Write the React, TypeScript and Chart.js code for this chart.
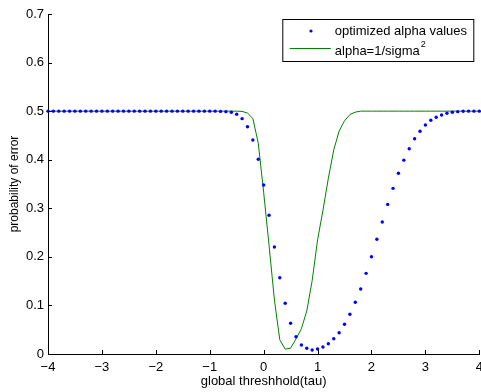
import React, { useEffect, useRef } from "react";
import { Chart, registerables } from "chart.js";

Chart.register(...registerables);

const TAU = [
  -4, -3.9, -3.8, -3.7, -3.6, -3.5, -3.4, -3.3, -3.2, -3.1,
  -3, -2.9, -2.8, -2.7, -2.6, -2.5, -2.4, -2.3, -2.2, -2.1,
  -2, -1.9, -1.8, -1.7, -1.6, -1.5, -1.4, -1.3, -1.2, -1.1,
  -1, -0.9, -0.8, -0.7, -0.6, -0.5, -0.4, -0.3, -0.2, -0.1,
  0, 0.1, 0.2, 0.3, 0.4, 0.5, 0.6, 0.7, 0.8, 0.9,
  1, 1.1, 1.2, 1.3, 1.4, 1.5, 1.6, 1.7, 1.8, 1.9,
  2, 2.1, 2.2, 2.3, 2.4, 2.5, 2.6, 2.7, 2.8, 2.9,
  3, 3.1, 3.2, 3.3, 3.4, 3.5, 3.6, 3.7, 3.8, 3.9,
  4,
];

const OPTIMIZED = [
  0.5, 0.5, 0.5, 0.5, 0.5, 0.5, 0.5, 0.5, 0.5, 0.5,
  0.5, 0.5, 0.5, 0.5, 0.5, 0.5, 0.5, 0.5, 0.5, 0.5,
  0.5, 0.5, 0.5, 0.5, 0.5, 0.5, 0.5, 0.5, 0.5, 0.5,
  0.5, 0.5, 0.4995, 0.499, 0.4976, 0.4935, 0.4845, 0.468, 0.4406, 0.401,
  0.348, 0.2856, 0.2203, 0.157, 0.1044, 0.0632, 0.0356, 0.0185, 0.0117, 0.0082,
  0.0103, 0.0144, 0.0212, 0.0315, 0.0439, 0.0611, 0.0817, 0.1064, 0.1338, 0.166,
  0.2003, 0.2362, 0.2718, 0.308, 0.341, 0.372, 0.3991, 0.4227, 0.4433, 0.4585,
  0.4715, 0.4812, 0.4873, 0.4921, 0.4956, 0.4976, 0.499, 0.4997, 0.5, 0.5,
  0.5,
];

const INVERSE_SIGMA = [
  0.5, 0.5, 0.5, 0.5, 0.5, 0.5, 0.5, 0.5, 0.5, 0.5,
  0.5, 0.5, 0.5, 0.5, 0.5, 0.5, 0.5, 0.5, 0.5, 0.5,
  0.5, 0.5, 0.5, 0.5, 0.5, 0.5, 0.5, 0.5, 0.5, 0.5,
  0.5, 0.5, 0.5, 0.5, 0.5, 0.5, 0.4995, 0.496, 0.485, 0.434,
  0.333, 0.224, 0.111, 0.029, 0.01, 0.012, 0.031, 0.052, 0.0885, 0.151,
  0.235, 0.296, 0.362, 0.42, 0.459, 0.48, 0.493, 0.498, 0.5, 0.5,
  0.5, 0.5, 0.5, 0.5, 0.5, 0.5, 0.5, 0.5, 0.5, 0.5,
  0.5, 0.5, 0.5, 0.5, 0.5, 0.5, 0.5, 0.5, 0.5, 0.5,
  0.5,
];

const X_TICKS = [-4, -3, -2, -1, 0, 1, 2, 3, 4];
const Y_TICKS = [0, 0.1, 0.2, 0.3, 0.4, 0.5, 0.6, 0.7];

const LEGEND_LABELS = ["optimized alpha values", "alpha=1/sigma", "2"];
const X_TITLE = "global threshhold(tau)";
const Y_TITLE = "probability of error";

const FONT = "'Liberation Sans', Arial, Helvetica, sans-serif";
const BLUE = "#0000ff";
const GREEN = "#008000";

const inwardTicks = {
  id: "inwardTicks",
  afterDatasetsDraw(chart: any) {
    const { ctx, chartArea } = chart;
    const xs = chart.scales.x;
    const ys = chart.scales.y;
    ctx.save();
    ctx.strokeStyle = "#000";
    ctx.lineWidth = 1;
    ctx.beginPath();
    X_TICKS.forEach((v) => {
      const px = Math.round(xs.getPixelForValue(v)) + 0.5;
      ctx.moveTo(px, chartArea.bottom);
      ctx.lineTo(px, chartArea.bottom - 4);
    });
    Y_TICKS.forEach((v) => {
      const py = Math.round(ys.getPixelForValue(v)) + 0.5;
      ctx.moveTo(chartArea.left, py);
      ctx.lineTo(chartArea.left + 4, py);
    });
    ctx.stroke();
    ctx.restore();
  },
};

const customLegend = {
  id: "customLegend",
  afterDraw(chart: any) {
    const { ctx, chartArea } = chart;
    const right = chartArea.right - 5.5;
    const top = chartArea.top + 5.5;
    const w = 191;
    const h = 42;
    const left = right - w;
    ctx.save();
    ctx.fillStyle = "#fff";
    ctx.fillRect(left, top, w, h);
    ctx.strokeStyle = "#000";
    ctx.lineWidth = 1;
    ctx.strokeRect(left, top, w, h);

    ctx.fillStyle = BLUE;
    ctx.beginPath();
    ctx.arc(left + 28.2, top + 11.5, 1.6, 0, Math.PI * 2);
    ctx.fill();
    ctx.strokeStyle = GREEN;
    ctx.beginPath();
    ctx.moveTo(left + 7, top + 29);
    ctx.lineTo(left + 48, top + 29);
    ctx.stroke();

    ctx.fillStyle = "#000";
    ctx.font = `13px ${FONT}`;
    ctx.textBaseline = "middle";
    ctx.textAlign = "left";
    ctx.fillText(LEGEND_LABELS[0], left + 52, top + 12);
    ctx.fillText(LEGEND_LABELS[1], left + 52, top + 31.5);
    const w1 = ctx.measureText(LEGEND_LABELS[1]).width;
    ctx.font = `9px ${FONT}`;
    ctx.fillText(LEGEND_LABELS[2], left + 52 + w1 + 1, top + 25);
    ctx.restore();
  },
};

export default function App() {
  const ref = useRef<HTMLCanvasElement | null>(null);

  useEffect(() => {
    if (!ref.current) return;
    const chart = new Chart(ref.current, {
      type: "line",
      data: {
        datasets: [
          {
            label: LEGEND_LABELS[0],
            data: TAU.map((t, i) => ({ x: t, y: OPTIMIZED[i] })),
            showLine: false,
            pointRadius: 1.7,
            pointHoverRadius: 1.7,
            pointBorderWidth: 0,
            pointBackgroundColor: BLUE,
            borderColor: BLUE,
            backgroundColor: BLUE,
            clip: false,
            order: 1,
          },
          {
            label: LEGEND_LABELS[1],
            data: TAU.map((t, i) => ({ x: t, y: INVERSE_SIGMA[i] })),
            borderColor: GREEN,
            borderWidth: 1,
            pointRadius: 0,
            tension: 0,
            fill: false,
            clip: false,
            order: 2,
          },
        ],
      },
      options: {
        responsive: false,
        animation: false,
        devicePixelRatio: 1,
        events: [],
        layout: { padding: { top: 14, right: 1, left: 0, bottom: 0 } },
        plugins: {
          legend: { display: false },
          tooltip: { enabled: false },
        },
        scales: {
          x: {
            type: "linear",
            min: -4,
            max: 4,
            grid: { display: false, drawTicks: false },
            border: { display: true, color: "#000", width: 1 },
            ticks: {
              stepSize: 1,
              autoSkip: false,
              maxRotation: 0,
              padding: 6,
              color: "#000",
              font: { family: FONT, size: 13 },
              callback: (v: any) =>
                Number(v) < 0 ? "\u2212" + Math.abs(Number(v)) : String(v),
            },
            title: {
              display: true,
              text: X_TITLE,
              color: "#000",
              font: { family: FONT, size: 13 },
              padding: { top: 0, bottom: 3 },
            },
            afterFit: (s: any) => {
              s.height = 38;
              s.paddingLeft = 0;
              s.paddingRight = 0;
            },
          },
          y: {
            type: "linear",
            min: 0,
            max: 0.7,
            grid: { display: false, drawTicks: false },
            border: { display: true, color: "#000", width: 1 },
            ticks: {
              stepSize: 0.1,
              padding: 4,
              color: "#000",
              font: { family: FONT, size: 13 },
              callback: (v: any) => String(Number(Number(v).toFixed(1))),
            },
            title: {
              display: true,
              text: Y_TITLE,
              color: "#000",
              font: { family: FONT, size: 12 },
              padding: { top: 7, bottom: 0 },
            },
            afterFit: (s: any) => {
              s.width = 48;
              s.paddingTop = 0;
              s.paddingBottom = 0;
            },
          },
        },
      },
      plugins: [inwardTicks, customLegend],
    });
    return () => chart.destroy();
  }, []);

  return (
    <div
      style={{
        position: "absolute",
        left: 0,
        top: 0,
        width: 481,
        height: 392,
        background: "#fff",
      }}
    >
      <canvas ref={ref} width={481} height={392} />
    </div>
  );
}
